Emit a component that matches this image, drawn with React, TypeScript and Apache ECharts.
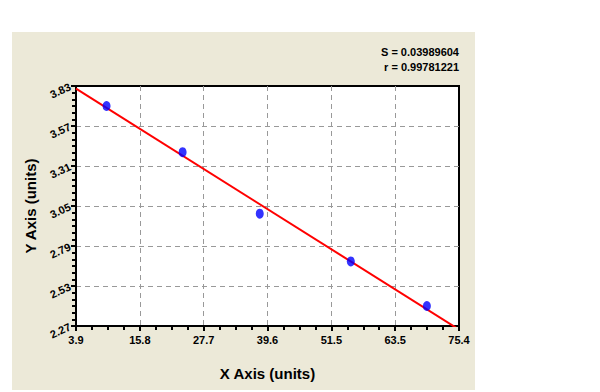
import React, { useEffect, useRef } from "react";
import * as echarts from "echarts";

const xTickLabels = ["3.9", "15.8", "27.7", "39.6", "51.5", "63.5", "75.4"];
const yTickLabels = ["2.27", "2.53", "2.79", "3.05", "3.31", "3.57", "3.83"];
const xMin = 3.9;
const xMax = 75.4;
const yMin = 2.27;
const yMax = 3.83;
const xMinorPerMajor = 4;
const yMinorPerMajor = 6;
const pointX = [9.6, 23.8, 38.2, 55.2, 69.4];
const pointY = [3.7, 3.4, 3.0, 2.69, 2.4];
const fitX = [3.9, 75.4];
const fitY = [3.813, 2.247];
const statLines = ["S = 0.03989604", "r = 0.99781221"];

const FONT = '"Liberation Sans", Arial, sans-serif';

export default function App() {
  const ref = useRef<HTMLDivElement>(null);
  useEffect(() => {
    if (!ref.current) return;
    const chart = echarts.init(ref.current, undefined, { renderer: "svg" });
    const grid = { left: 76, top: 86, width: 383, height: 240 };
    const nMajX = xTickLabels.length - 1;
    const nMajY = yTickLabels.length - 1;
    chart.setOption({
      animation: false,
      backgroundColor: "#ffffff",
      graphic: [
        {
          type: "rect",
          z: -10,
          silent: true,
          shape: { x: 12, y: 32, width: 463, height: 358 },
          style: { fill: "#ECE9D8" },
        },
        {
          type: "text",
          right: 600 - 459,
          top: 44,
          style: {
            text: statLines.join("\n"),
            font: `bold 11px ${FONT}`,
            fill: "#000",
            textAlign: "right",
            lineHeight: 15,
          },
        },
      ],
      grid: {
        ...grid,
        show: true,
        backgroundColor: "#ffffff",
        borderColor: "#000000",
        borderWidth: 2,
      },
      xAxis: [
        {
          type: "value",
          min: 0,
          max: nMajX,
          interval: 1,
          position: "bottom",
          name: "X Axis (units)",
          nameLocation: "middle",
          nameGap: 40,
          nameTextStyle: { fontFamily: FONT, fontWeight: "bold", fontSize: 15, color: "#000" },
          axisLine: { show: true, lineStyle: { color: "#000", width: 2 } },
          axisTick: { show: true, inside: false, length: 5, lineStyle: { color: "#000", width: 2 } },
          axisLabel: {
            margin: 8,
            fontFamily: FONT,
            fontWeight: "bold",
            fontSize: 11,
            color: "#000",
            formatter: (v: number) => xTickLabels[Math.round(v)] ?? "",
          },
          splitLine: {
            show: true,
            showMinLine: false,
            showMaxLine: false,
            lineStyle: { color: "#999999", type: [5, 4], width: 1 },
          },
        },
        { type: "value", min: xMin, max: xMax, show: false },
        {
          type: "value",
          min: 0,
          max: nMajX * xMinorPerMajor,
          interval: 1,
          position: "bottom",
          axisLine: { show: false },
          axisTick: { show: true, inside: false, length: 4, lineStyle: { color: "#000", width: 2 } },
          axisLabel: { show: false },
          splitLine: { show: false },
        },
      ],
      yAxis: [
        {
          type: "value",
          min: 0,
          max: nMajY,
          interval: 1,
          position: "left",
          name: "Y Axis (units)",
          nameLocation: "middle",
          nameGap: 36,
          nameTextStyle: { fontFamily: FONT, fontWeight: "bold", fontSize: 15, color: "#000" },
          axisLine: { show: true, lineStyle: { color: "#000", width: 2 } },
          axisTick: { show: true, inside: false, length: 5, lineStyle: { color: "#000", width: 2 } },
          axisLabel: {
            margin: 6,
            rotate: 25,
            fontFamily: FONT,
            fontWeight: "bold",
            fontSize: 11,
            color: "#000",
            formatter: (v: number) => yTickLabels[Math.round(v)] ?? "",
          },
          splitLine: {
            show: true,
            showMinLine: false,
            showMaxLine: false,
            lineStyle: { color: "#999999", type: [5, 4], width: 1 },
          },
        },
        { type: "value", min: yMin, max: yMax, show: false },
        {
          type: "value",
          min: 0,
          max: nMajY * yMinorPerMajor,
          interval: 1,
          position: "left",
          axisLine: { show: false },
          axisTick: { show: true, inside: false, length: 4, lineStyle: { color: "#000", width: 2 } },
          axisLabel: { show: false },
          splitLine: { show: false },
        },
      ],
      series: [
        {
          type: "line",
          xAxisIndex: 1,
          yAxisIndex: 1,
          data: fitX.map((x, i) => [x, fitY[i]]),
          symbol: "none",
          lineStyle: { color: "#ff0000", width: 2 },
          z: 3,
        },
        {
          type: "scatter",
          xAxisIndex: 1,
          yAxisIndex: 1,
          data: pointX.map((x, i) => [x, pointY[i]]),
          symbol: "circle",
          symbolSize: [8, 10],
          itemStyle: { color: "#0000ff" },
          z: 4,
        },
      ],
    });
    return () => chart.dispose();
  }, []);
  return (
    <div
      ref={ref}
      style={{ position: "fixed", left: 0, top: 0, width: 600, height: 392 }}
    />
  );
}
